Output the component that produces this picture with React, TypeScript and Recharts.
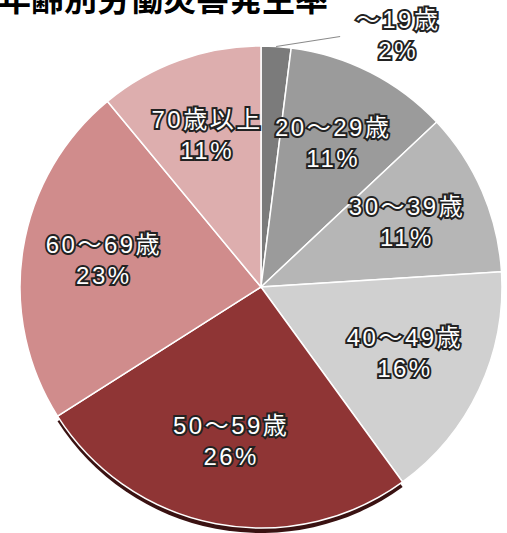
import { PieChart, Pie, Cell } from 'recharts';

const ageGroups = ['～19歳', '20～29歳', '30～39歳', '40～49歳', '50～59歳', '60～69歳', '70歳以上'];
const shares = [2, 11, 11, 16, 26, 23, 11];
const sliceColors = ['#7b7b7b', '#9b9b9b', '#b6b6b6', '#d0d0d0', '#8f3535', '#d08c8c', '#ddaeae'];

const data = ageGroups.map((name, i) => ({ name, value: shares[i] }));

const RADIAN = Math.PI / 180;
const FONT = '"Noto Sans CJK JP", "Noto Sans", sans-serif';
const LABEL_FONT = '"Liberation Sans", "Noto Sans CJK JP", sans-serif';

function Label(props: any) {
  const { cx, cy, midAngle, outerRadius, index } = props;
  const entry = data[index];
  const cos = Math.cos(-midAngle * RADIAN);
  const sin = Math.sin(-midAngle * RADIAN);
  const textStyle = {
    fill: '#fff',
    stroke: '#222',
    strokeWidth: 4,
    paintOrder: 'stroke' as const,
    fontSize: 24,
    letterSpacing: 2.5,
    fontFamily: LABEL_FONT,
  };

  // tiny slice: label outside with a leader line
  if (entry.value < 5) {
    const ex = cx + outerRadius * cos;
    const ey = cy + outerRadius * sin;
    const lx = ex + 64;
    const ly = ey - 10;
    return (
      <g>
        <line x1={ex} y1={ey} x2={lx} y2={ly} stroke="#8a8a8a" strokeWidth={1.2} />
        <text x={lx + 58} y={ly - 8} textAnchor="middle" style={textStyle}>
          {entry.name}
        </text>
        <text x={lx + 58} y={ly + 23} textAnchor="middle" style={textStyle}>
          {entry.value}%
        </text>
      </g>
    );
  }

  const r = outerRadius * 0.66;
  const x = cx + r * cos;
  const y = cy + r * sin;
  return (
    <g>
      <text x={x} y={y - 9} textAnchor="middle" style={textStyle}>
        {entry.name}
      </text>
      <text x={x} y={y + 22} textAnchor="middle" style={textStyle}>
        {entry.value}%
      </text>
    </g>
  );
}

export default function App() {
  return (
    <div style={{ position: 'absolute', left: 0, top: 0, width: 507, height: 533, background: '#fff', overflow: 'hidden' }}>
      <PieChart width={507} height={533} margin={{ top: 0, right: 0, bottom: 0, left: 0 }}>
        {/* dark rim under the biggest slice */}
        <Pie
          data={data}
          dataKey="value"
          nameKey="name"
          cx={261}
          cy={292}
          outerRadius={241}
          startAngle={90}
          endAngle={-270}
          stroke="none"
          isAnimationActive={false}
        >
          {data.map((entry, index) => (
            <Cell key={`shadow-${index}`} fill={index === 4 ? '#3a1212' : 'transparent'} />
          ))}
        </Pie>
        <Pie
          data={data}
          dataKey="value"
          nameKey="name"
          cx={261}
          cy={287}
          outerRadius={241}
          startAngle={90}
          endAngle={-270}
          stroke="#fff"
          strokeWidth={1.5}
          labelLine={false}
          label={Label}
          isAnimationActive={false}
        >
          {data.map((entry, index) => (
            <Cell key={`cell-${index}`} fill={sliceColors[index]} />
          ))}
        </Pie>
      </PieChart>
      <div
        style={{
          position: 'absolute',
          left: -2,
          top: -22,
          fontFamily: FONT,
          fontWeight: 700,
          fontSize: 33,
          lineHeight: '38px',
          color: '#000',
          whiteSpace: 'nowrap',
        }}
      >
        年齢別労働災害発生率
      </div>
    </div>
  );
}
